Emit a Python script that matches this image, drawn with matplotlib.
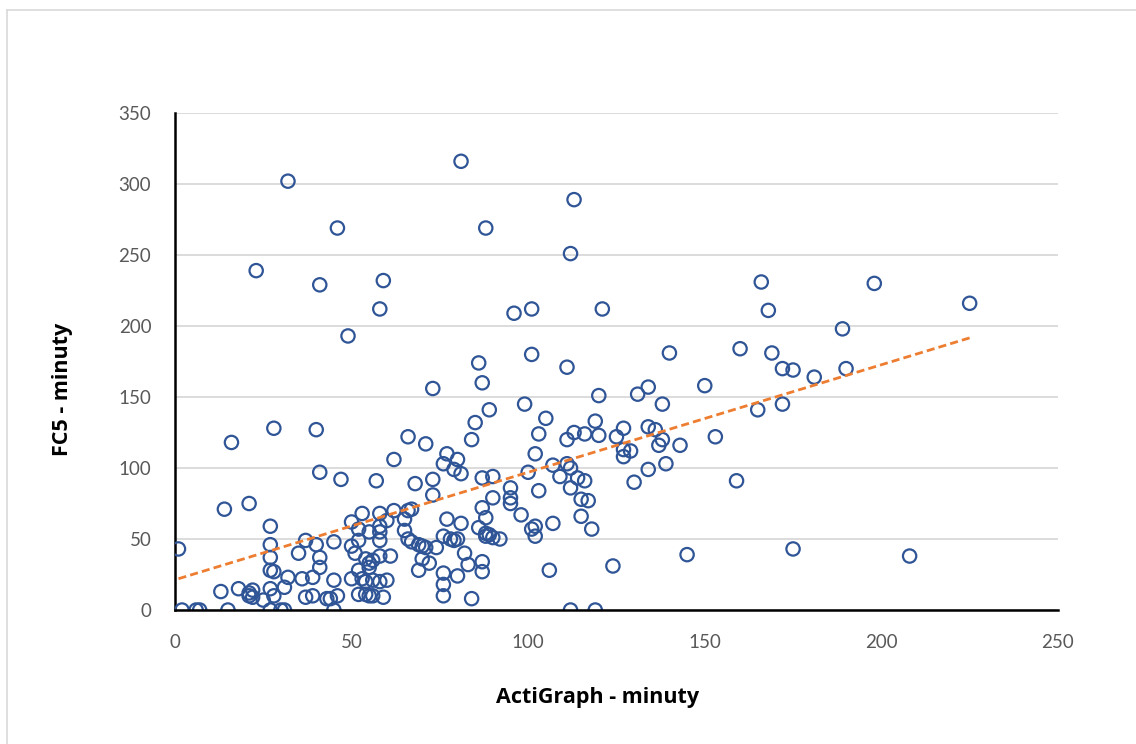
import matplotlib.pyplot as plt
import numpy as np
from matplotlib.lines import Line2D

# ActiGraph minutes (x) vs FC5 minutes (y)
actigraph_min = [
    32, 81, 113, 46, 88, 112, 23, 41, 59, 58, 96, 101, 121, 49, 166, 168, 198, 225, 189,
    101, 86, 87, 111, 140, 160, 169, 172, 175, 181, 190, 165, 172,
    99, 89, 120, 131, 134, 150, 138, 73,
    85, 84, 105, 103, 102, 119, 113, 111, 116, 120, 125, 127, 127, 127, 129, 134, 136, 138, 137,
    143, 153, 134, 139, 130, 159,
    77, 76, 80, 79, 81, 87, 90, 100, 107, 111, 112, 109, 112, 114, 116, 103,
    95, 95, 95, 98, 101, 90, 87, 88, 86, 81,
    88, 89, 88, 90, 92, 79, 82, 83, 87, 87, 80, 76, 76, 76, 84,
    102, 102, 107, 115, 117, 115, 118, 106, 124, 145, 112, 119,
    175, 208,
    1, 14, 21, 16, 28, 40, 41, 47, 57, 66, 71, 62, 68, 73, 73,
    27, 27, 27, 27, 28, 27, 28, 31, 32, 35, 37, 40, 41, 41, 45, 36, 39, 37, 39, 43, 44, 46, 45, 45,
    50, 53, 50, 51, 52, 52, 55, 58, 58, 58, 58, 60, 62, 65, 66, 67, 65, 66, 67, 69, 70, 71, 74,
    76, 77, 78, 80,
    70, 72, 69, 61, 58, 56, 55, 54, 55, 52, 50, 53, 54, 56, 58, 60, 52, 54, 55, 56, 59,
    13, 18, 21, 22, 22, 21, 25,
    2, 6, 7, 15, 27, 30, 31,
]
fc5_min = [
    302, 316, 289, 269, 269, 251, 239, 229, 232, 212, 209, 212, 212, 193, 231, 211, 230, 216, 198,
    180, 174, 160, 171, 181, 184, 181, 170, 169, 164, 170, 141, 145,
    145, 141, 151, 152, 157, 158, 145, 156,
    132, 120, 135, 124, 110, 133, 125, 120, 124, 123, 122, 128, 113, 108, 112, 129, 127, 120, 116,
    116, 122, 99, 103, 90, 91,
    110, 103, 106, 99, 96, 93, 94, 97, 102, 103, 100, 94, 86, 93, 91, 84,
    86, 79, 75, 67, 57, 79, 72, 65, 58, 61,
    54, 53, 52, 51, 50, 49, 40, 32, 34, 27, 24, 26, 18, 10, 8,
    59, 52, 61, 78, 77, 66, 57, 28, 31, 39, 0, 0,
    43, 38,
    43, 71, 75, 118, 128, 127, 97, 92, 91, 122, 117, 106, 89, 92, 81,
    59, 46, 37, 28, 27, 15, 10, 16, 23, 40, 49, 46, 37, 30, 48, 22, 23, 9, 10, 8, 8, 10, 21, 0,
    62, 68, 45, 40, 49, 57, 55, 68, 59, 55, 49, 63, 70, 64, 70, 71, 56, 50, 48, 46, 45, 44, 44,
    52, 64, 50, 50,
    36, 33, 28, 38, 38, 35, 33, 36, 30, 28, 22, 22, 20, 21, 20, 21, 11, 11, 10, 10, 9,
    13, 15, 12, 14, 9, 10, 7,
    0, 0, 0, 0, 0, 0, 0,
]

y_ticks = [0, 50, 100, 150, 200, 250, 300, 350]
x_ticks = [0, 50, 100, 150, 200, 250]

FONT = ["Lato", "DejaVu Sans"]
TITLE_FONT = ["Open Sans", "DejaVu Sans"]


def main() -> None:
    plt.rcParams["font.family"] = FONT
    fig = plt.figure(figsize=(11.36, 7.44), dpi=100)
    ax = fig.add_axes([0.1540, 0.1801, 0.7773, 0.6680])

    x = np.array(actigraph_min, dtype=float)
    y = np.array(fc5_min, dtype=float)

    ax.scatter(x, y, s=92, facecolors="none", edgecolors="#2F5597",
               linewidths=1.6, zorder=3)

    # linear trend over the data range
    slope, intercept = np.polyfit(x, y, 1)
    xs = np.array([x.min(), x.max()])
    ax.plot(xs, slope * xs + intercept, color="#ED7D31", lw=2.0,
            dashes=(2.9, 1.5), zorder=4)

    ax.set_xlim(0, 250)
    ax.set_ylim(0, 350)
    ax.set_xticks(x_ticks)
    ax.set_yticks(y_ticks)
    ax.tick_params(length=0, labelsize=13.5, labelcolor="#595959", pad=17)
    ax.grid(axis="y", color="#D9D9D9", lw=1.3, zorder=0)
    ax.set_axisbelow(True)

    for side in ("top", "right"):
        ax.spines[side].set_visible(False)
    ax.spines["left"].set_color("black")
    ax.spines["bottom"].set_color("black")
    ax.spines["left"].set_linewidth(1.8)
    ax.spines["bottom"].set_linewidth(1.8)
    ax.spines["bottom"].set_zorder(5)

    ax.set_xlabel("ActiGraph - minuty", fontsize=15.5, fontweight="bold",
                  family=TITLE_FONT)
    ax.set_ylabel("FC5 - minuty", fontsize=15.5, fontweight="bold",
                  family=TITLE_FONT)
    ax.xaxis.set_label_coords(0.479, -0.155)
    ax.yaxis.set_label_coords(-0.116, 0.443)

    # chart-area border (only left and top edges show in the crop)
    border = "#D9D9D9"
    fig.add_artist(Line2D([7 / 1136, 7 / 1136], [0, 1 - 10 / 744],
                          transform=fig.transFigure, color=border, lw=1.2))
    fig.add_artist(Line2D([7 / 1136, 1], [1 - 10 / 744, 1 - 10 / 744],
                          transform=fig.transFigure, color=border, lw=1.2))

    fig.savefig("out.png", dpi=100)
    plt.close(fig)


if __name__ == "__main__":
    main()
